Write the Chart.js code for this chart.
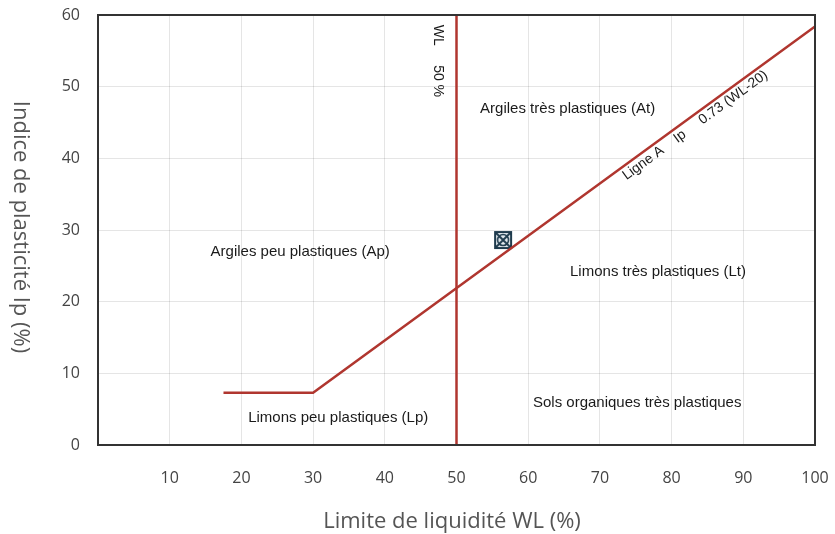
<!DOCTYPE html>
<html lang="fr">

<head>
    <meta charset="UTF-8">
    <title>Abaque de plasticité de Casagrande</title>
    <style>
        html,
        body {
            margin: 0;
            padding: 0;
            background: #fff;
        }

        #wrap {
            width: 835px;
            height: 534px;
        }
    </style>
    <script src="https://cdn.jsdelivr.net/npm/chart.js"></script>
</head>

<body>
    <div id="wrap"><canvas id="chart"></canvas></div>

    <script>
        // Ligne A : Ip = 0.73 (WL - 20), avec palier à gauche
        const aLineWL = [17.5, 30, 100];
        const aLineIp = [7.3, 7.3, 58.4];

        // limite WL = 50 %
        const wl50WL = [50, 50];
        const wl50Ip = [0, 60];

        // échantillon
        const sampleWL = [56.5];
        const sampleIp = [28.6];

        const xTicks = [10, 20, 30, 40, 50, 60, 70, 80, 90, 100];
        const yTicks = [0, 10, 20, 30, 40, 50, 60];

        // zones du diagramme
        const zoneNames = [
            'Argiles très plastiques (At)',
            'Argiles peu plastiques (Ap)',
            'Limons très plastiques (Lt)',
            'Sols organiques très plastiques',
            'Limons peu plastiques (Lp)'
        ];
        const zoneWL = [65.5, 28.2, 78.1, 75.2, 33.5];
        const zoneIp = [46.9, 26.9, 24.1, 5.9, 3.8];

        const xTitle = 'Limite de liquidité WL (%)';
        const yTitle = 'Indice de plasticité Ip (%)';

        const RED = '#b0362f';

        function toPoints(xs, ys) {
            return xs.map((x, i) => ({ x: x, y: ys[i] }));
        }

        // symbole de l'échantillon : carré + croix + cercle
        function sampleSymbol() {
            const c = document.createElement('canvas');
            c.width = 20;
            c.height = 20;
            const g = c.getContext('2d');
            g.fillStyle = '#e8eef2';
            g.fillRect(2, 2, 16, 16);
            g.strokeStyle = '#1f3b4d';
            g.lineWidth = 2;
            g.strokeRect(2, 2, 16, 16);
            g.lineWidth = 1.6;
            g.beginPath();
            g.arc(10, 10, 5.5, 0, Math.PI * 2);
            g.stroke();
            g.lineWidth = 2;
            g.beginPath();
            g.moveTo(3, 3); g.lineTo(17, 17);
            g.moveTo(17, 3); g.lineTo(3, 17);
            g.stroke();
            return c;
        }

        const decor = {
            id: 'decor',
            afterDatasetsDraw(chart) {
                const ctx = chart.ctx;
                const xs = chart.scales.x;
                const ys = chart.scales.y;
                const a = chart.chartArea;

                // cadre
                ctx.save();
                ctx.strokeStyle = '#333';
                ctx.lineWidth = 2;
                ctx.strokeRect(a.left, a.top, a.right - a.left, a.bottom - a.top);

                // noms des zones
                ctx.fillStyle = '#1a1a1a';
                ctx.font = '15px "Liberation Sans", Arial, sans-serif';
                ctx.textAlign = 'center';
                ctx.textBaseline = 'middle';
                zoneNames.forEach((t, i) => {
                    ctx.fillText(t, xs.getPixelForValue(zoneWL[i]), ys.getPixelForValue(zoneIp[i]));
                });

                // WL 50 % (vertical)
                ctx.save();
                ctx.translate(xs.getPixelForValue(47.4), ys.getPixelForValue(53.6));
                ctx.rotate(Math.PI / 2);
                ctx.font = '14px "Liberation Sans", Arial, sans-serif';
                ctx.fillText('WL     50 %', 0, 0);
                ctx.restore();

                // légende de la ligne A, dans l'axe de la droite
                const p1x = xs.getPixelForValue(aLineWL[1]), p1y = ys.getPixelForValue(aLineIp[1]);
                const p2x = xs.getPixelForValue(aLineWL[2]), p2y = ys.getPixelForValue(aLineIp[2]);
                const ang = Math.atan2(p2y - p1y, p2x - p1x);
                ctx.save();
                ctx.translate(xs.getPixelForValue(83.3), ys.getPixelForValue(44.6));
                ctx.rotate(ang);
                ctx.font = '14px "Liberation Sans", Arial, sans-serif';
                ctx.fillText('Ligne A    Ip     0.73 (WL-20)', 0, 0);
                ctx.restore();

                // titres des axes
                ctx.fillStyle = '#555';
                ctx.font = '22px "Open Sans", sans-serif';
                ctx.fillText(xTitle, 452, 522);
                ctx.save();
                ctx.translate(20, 227);
                ctx.rotate(Math.PI / 2);
                ctx.fillText(yTitle, 0, 0);
                ctx.restore();

                ctx.restore();
            }
        };

        const gridStyle = {
            color: 'rgba(0,0,0,0.10)',
            drawTicks: false
        };

        // on neutralise les marges ajoutées par Chart.js pour les libellés
        function noPad(axis) {
            axis.paddingLeft = 0;
            axis.paddingRight = 0;
            axis.paddingTop = 0;
            axis.paddingBottom = 0;
        }

        new Chart(document.getElementById('chart'), {
            type: 'scatter',
            data: {
                datasets: [
                    {
                        label: 'Ligne A',
                        data: toPoints(aLineWL, aLineIp),
                        showLine: true,
                        borderColor: RED,
                        borderWidth: 2.5,
                        pointRadius: 0,
                        tension: 0
                    },
                    {
                        label: 'WL 50 %',
                        data: toPoints(wl50WL, wl50Ip),
                        showLine: true,
                        borderColor: RED,
                        borderWidth: 2.5,
                        pointRadius: 0
                    },
                    {
                        label: 'Échantillon',
                        data: toPoints(sampleWL, sampleIp),
                        pointStyle: sampleSymbol(),
                        pointRadius: 10
                    }
                ]
            },
            options: {
                responsive: true,
                maintainAspectRatio: false,
                animation: false,
                layout: {
                    padding: { left: 0, right: 20, top: 15, bottom: 0 }
                },
                plugins: {
                    legend: { display: false },
                    tooltip: { enabled: false }
                },
                scales: {
                    x: {
                        type: 'linear',
                        min: 0,
                        max: 100,
                        border: { display: false },
                        grid: gridStyle,
                        afterBuildTicks(axis) {
                            axis.ticks = [0].concat(xTicks).map(v => ({ value: v }));
                        },
                        afterFit(axis) { axis.height = 89; noPad(axis); },
                        ticks: {
                            padding: 24,
                            color: '#444',
                            font: { family: '"Open Sans", sans-serif', size: 16 },
                            callback: v => (v === 0 ? '' : v)
                        }
                    },
                    y: {
                        type: 'linear',
                        min: 0,
                        max: 60,
                        border: { display: false },
                        grid: gridStyle,
                        afterBuildTicks(axis) {
                            axis.ticks = yTicks.map(v => ({ value: v }));
                        },
                        afterFit(axis) { axis.width = 98; noPad(axis); },
                        ticks: {
                            padding: 18,
                            color: '#444',
                            font: { family: '"Open Sans", sans-serif', size: 16 }
                        }
                    }
                }
            },
            plugins: [decor]
        });
    </script>
</body>

</html>
